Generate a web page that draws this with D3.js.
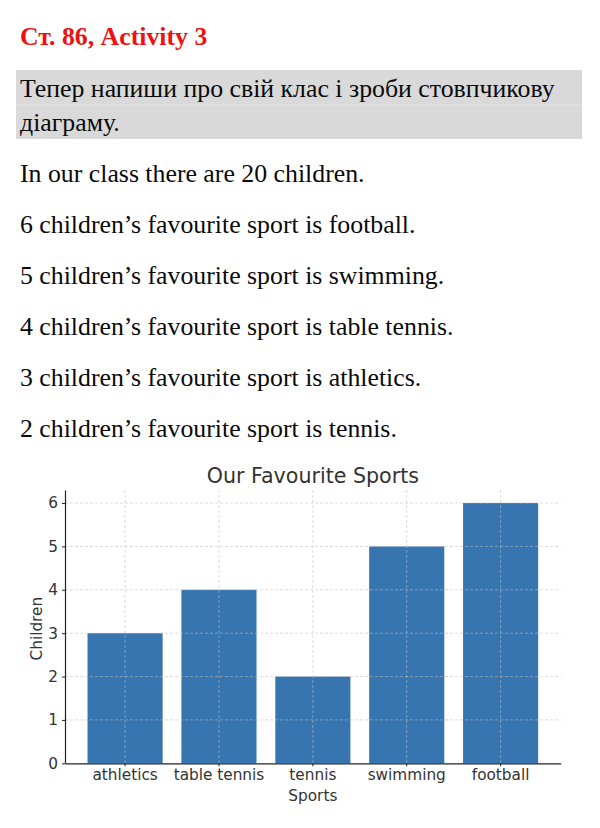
<!DOCTYPE html>
<html>
<head>
<meta charset="utf-8">
<script src="https://cdn.jsdelivr.net/npm/d3@7"></script>
<style>
  html, body { margin: 0; padding: 0; background: #ffffff; }
  svg { display: block; }
</style>
</head>
<body>
<svg id="chart" width="600" height="828"></svg>
<script>
// ---- Data ----
const heading = "Ст. 86, Activity 3";
const taskLines = ["Тепер напиши про свій клас і зроби стовпчикову", "діаграму."];
const textLines = [
  "In our class there are 20 children.",
  "6 children’s favourite sport is football.",
  "5 children’s favourite sport is swimming.",
  "4 children’s favourite sport is table tennis.",
  "3 children’s favourite sport is athletics.",
  "2 children’s favourite sport is tennis."
];
const categories = ["athletics", "table tennis", "tennis", "swimming", "football"];
const values = [3, 4, 2, 5, 6];
const yTicks = [0, 1, 2, 3, 4, 5, 6];
const chartTitle = "Our Favourite Sports";
const xLabel = "Sports";
const yLabel = "Children";

// ---- Drawing ----
const svg = d3.select("#chart");
const serif = "'Liberation Serif', 'Times New Roman', serif";
const sans = "'DejaVu Sans', sans-serif";

svg.append("text")
  .attr("x", 20).attr("y", 45)
  .attr("font-family", serif).attr("font-size", 25.8).attr("font-weight", "bold")
  .attr("fill", "#ee1111")
  .text(heading);

svg.append("rect")
  .attr("x", 16).attr("y", 70).attr("width", 566).attr("height", 69)
  .attr("fill", "#d9d9d9");
svg.append("line")
  .attr("x1", 16).attr("x2", 582).attr("y1", 105).attr("y2", 105)
  .attr("stroke", "#e2e2e2").attr("stroke-width", 1);

svg.selectAll("text.task").data(taskLines).enter().append("text")
  .attr("class", "task")
  .attr("x", 20).attr("y", (d, i) => 97 + i * 34)
  .attr("font-family", serif).attr("font-size", 25.8).attr("fill", "#0a0a0a")
  .text(d => d);

svg.selectAll("text.body").data(textLines).enter().append("text")
  .attr("class", "body")
  .attr("x", 20).attr("y", (d, i) => 181.5 + i * 51)
  .attr("font-family", serif).attr("font-size", 25.8).attr("fill", "#0a0a0a")
  .text(d => d);

// Chart
const pLeft = 65, pRight = 560.7, pBottom = 763.3, pTop = 490;
const x = d3.scaleBand().domain(categories).range([pLeft, pRight])
  .paddingInner(0.2).paddingOuter(0.24);
const y = d3.scaleLinear().domain([0, 6.3]).range([pBottom, pTop]);

const g = svg.append("g");

// bars
g.selectAll("rect.bar").data(values).enter().append("rect")
  .attr("class", "bar")
  .attr("x", (d, i) => x(categories[i]))
  .attr("y", d => y(d))
  .attr("width", x.bandwidth())
  .attr("height", d => y(0) - y(d))
  .attr("fill", "#3775b0");

// grid (drawn over bars, semi-transparent)
g.selectAll("line.hgrid").data(yTicks.slice(1)).enter().append("line")
  .attr("class", "hgrid")
  .attr("x1", pLeft).attr("x2", pRight)
  .attr("y1", d => y(d)).attr("y2", d => y(d))
  .attr("stroke", "rgba(190,190,190,0.55)").attr("stroke-width", 1)
  .attr("stroke-dasharray", "3,2");
g.selectAll("line.vgrid").data(categories).enter().append("line")
  .attr("class", "vgrid")
  .attr("x1", d => x(d) + x.bandwidth() / 2).attr("x2", d => x(d) + x.bandwidth() / 2)
  .attr("y1", pTop).attr("y2", pBottom)
  .attr("stroke", "rgba(190,190,190,0.55)").attr("stroke-width", 1)
  .attr("stroke-dasharray", "3,2");

// axes
const xAxis = g.append("g").attr("transform", `translate(0,${pBottom})`)
  .call(d3.axisBottom(x).tickSize(3).tickPadding(3).tickSizeOuter(0));
const yAxis = g.append("g").attr("transform", `translate(${pLeft},0)`)
  .call(d3.axisLeft(y).tickValues(yTicks).tickFormat(d3.format("d")).tickSize(3).tickPadding(4).tickSizeOuter(0));

[xAxis, yAxis].forEach(a => {
  a.select(".domain").attr("stroke", "#222").attr("stroke-width", 1.2);
  a.selectAll(".tick line").attr("stroke", "#222");
  a.selectAll(".tick text").attr("font-family", sans).attr("font-size", 15.3).attr("fill", "#333");
});

// titles
svg.append("text")
  .attr("x", (pLeft + pRight) / 2).attr("y", 483)
  .attr("text-anchor", "middle")
  .attr("font-family", sans).attr("font-size", 20.6).attr("fill", "#333")
  .text(chartTitle);
svg.append("text")
  .attr("x", (pLeft + pRight) / 2).attr("y", 801)
  .attr("text-anchor", "middle")
  .attr("font-family", sans).attr("font-size", 15.3).attr("fill", "#333")
  .text(xLabel);
svg.append("text")
  .attr("transform", `translate(42,${(pTop + pBottom) / 2 + 2}) rotate(-90)`)
  .attr("text-anchor", "middle")
  .attr("font-family", sans).attr("font-size", 15.3).attr("fill", "#333")
  .text(yLabel);
</script>
</body>
</html>
